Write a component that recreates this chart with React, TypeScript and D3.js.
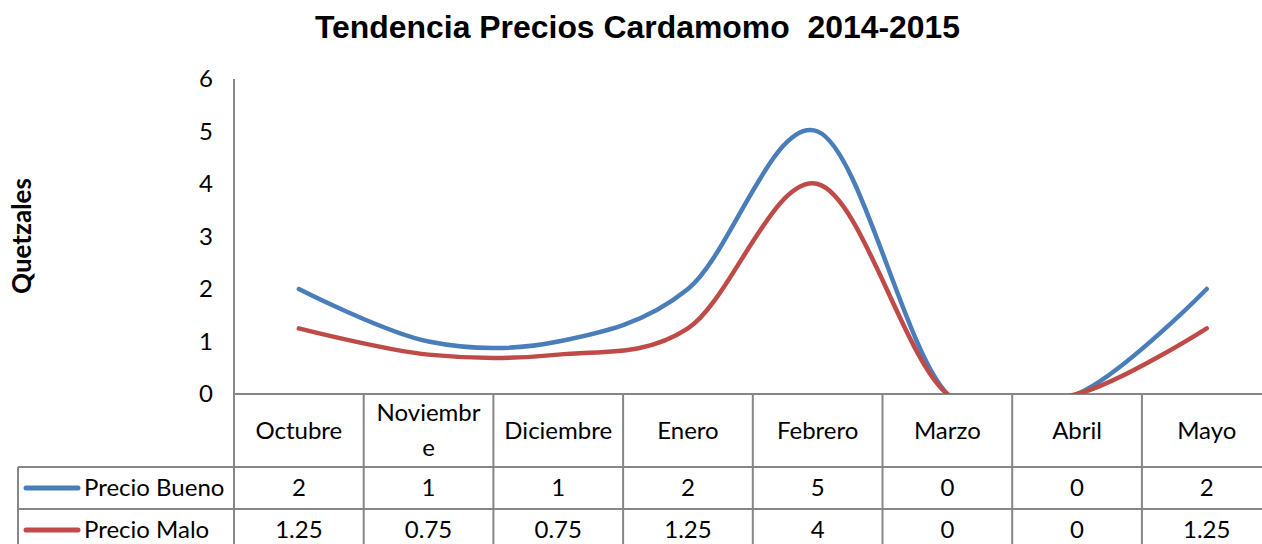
import React from "react";
import * as d3 from "d3";

const title = "Tendencia Precios Cardamomo  2014-2015";
const yAxisTitle = "Quetzales";
const categories = ["Octubre", "Noviembre", "Diciembre", "Enero", "Febrero", "Marzo", "Abril", "Mayo"];
const categoryLines: string[][] = [["Octubre"], ["Noviembr", "e"], ["Diciembre"], ["Enero"], ["Febrero"], ["Marzo"], ["Abril"], ["Mayo"]];
const seriesNames = ["Precio Bueno", "Precio Malo"];
const precioBueno = [2, 1, 1, 2, 5, 0, 0, 2];
const precioMalo = [1.25, 0.75, 0.75, 1.25, 4, 0, 0, 1.25];
const valueLabels = [
  ["2", "1", "1", "2", "5", "0", "0", "2"],
  ["1.25", "0.75", "0.75", "1.25", "4", "0", "0", "1.25"],
];
const yTicks = [0, 1, 2, 3, 4, 5, 6];
const colors = ["#4A7EBB", "#BE4B48"];

const W = 1262;
const H = 544;
const plotLeft = 234;
const colW = 129.7;
const plotTop = 79;
const plotBottom = 394;
const row1 = 467;
const row2 = 509;
const row3 = 551;
const tableLeft = 18;
const gridColor = "#868686";
const bodyFont = "Lato, 'Open Sans', sans-serif";

export default function App() {
  const x = d3
    .scaleBand<string>()
    .domain(categories)
    .range([plotLeft, plotLeft + colW * categories.length]);
  const y = d3.scaleLinear().domain([0, 6]).range([plotBottom, plotTop]);
  const line = d3
    .line<number>()
    .x((_, i) => (x(categories[i]) as number) + x.bandwidth() / 2)
    .y((d) => y(d))
    .curve(d3.curveCardinal.tension(0));
  const series = [precioBueno, precioMalo];
  const tableRight = plotLeft + colW * categories.length;

  return (
    <svg
      width={W}
      height={H}
      style={{ position: "absolute", left: 0, top: 0, background: "#fff" }}
    >
      <defs>
        <clipPath id="plotClip">
          <rect x={plotLeft} y={0} width={tableRight - plotLeft} height={plotBottom} />
        </clipPath>
      </defs>
      <rect x={0} y={0} width={W} height={H} fill="#fff" />
      <text
        x={315}
        y={38}
        textAnchor="start"
        fontFamily="'Liberation Sans', Arial, sans-serif"
        fontWeight="bold"
        fontSize={31}
        fill="#000"
        textLength={645}
        lengthAdjust="spacingAndGlyphs"
        style={{ whiteSpace: "pre" }}
      >
        {title}
      </text>
      <text
        transform={`translate(31,236) rotate(-90)`}
        textAnchor="middle"
        fontFamily={bodyFont}
        fontWeight="bold"
        fontSize={26}
        fill="#000"
      >
        {yAxisTitle}
      </text>
      {yTicks.map((t) => (
        <text
          key={t}
          x={213}
          y={y(t)}
          dy="0.35em"
          textAnchor="end"
          fontFamily={bodyFont}
          fontSize={24}
          fill="#000"
        >
          {t}
        </text>
      ))}
      {/* grid / table lines */}
      <line x1={plotLeft} x2={plotLeft} y1={plotTop} y2={H} stroke={gridColor} strokeWidth={2} />
      <line x1={plotLeft} x2={tableRight} y1={plotBottom} y2={plotBottom} stroke={gridColor} strokeWidth={2} />
      {categories.map((c, i) =>
        i === 0 ? null : (
          <line
            key={c}
            x1={x(c)}
            x2={x(c)}
            y1={plotBottom}
            y2={H}
            stroke={gridColor}
            strokeWidth={2}
          />
        )
      )}
      <line x1={tableLeft} x2={tableRight} y1={row1} y2={row1} stroke={gridColor} strokeWidth={2} />
      <line x1={tableLeft} x2={tableRight} y1={row2} y2={row2} stroke={gridColor} strokeWidth={2} />
      <line x1={tableLeft} x2={tableLeft} y1={row1} y2={H} stroke={gridColor} strokeWidth={2} />
      {/* category labels */}
      {categories.map((c, i) => {
        const lines = categoryLines[i];
        const cx = (x(c) as number) + x.bandwidth() / 2;
        const cy = (plotBottom + row1) / 2;
        const lh = 35;
        return (
          <text
            key={c}
            x={cx}
            textAnchor="middle"
            fontFamily={bodyFont}
            fontSize={24}
            fill="#000"
          >
            {lines.map((l, j) => (
              <tspan key={j} x={cx} y={cy + (j - (lines.length - 1) / 2) * lh} dy="0.35em">
                {l}
              </tspan>
            ))}
          </text>
        );
      })}
      {/* series rows */}
      {seriesNames.map((name, si) => {
        const cy = si === 0 ? (row1 + row2) / 2 : (row2 + row3) / 2;
        return (
          <g key={name}>
            <line
              x1={26}
              x2={78}
              y1={cy}
              y2={cy}
              stroke={colors[si]}
              strokeWidth={5}
              strokeLinecap="round"
            />
            <text x={84} y={cy} dy="0.35em" fontFamily={bodyFont} fontSize={24} fill="#000">
              {name}
            </text>
            {valueLabels[si].map((v, i) => (
              <text
                key={i}
                x={(x(categories[i]) as number) + x.bandwidth() / 2}
                y={cy}
                dy="0.35em"
                textAnchor="middle"
                fontFamily={bodyFont}
                fontSize={24}
                fill="#000"
              >
                {v}
              </text>
            ))}
          </g>
        );
      })}
      {/* lines */}
      <g clipPath="url(#plotClip)">
        {series.map((s, si) => (
          <path
            key={si}
            d={line(s) || ""}
            fill="none"
            stroke={colors[si]}
            strokeWidth={4.5}
            strokeLinecap="round"
            strokeLinejoin="round"
          />
        ))}
      </g>
    </svg>
  );
}
